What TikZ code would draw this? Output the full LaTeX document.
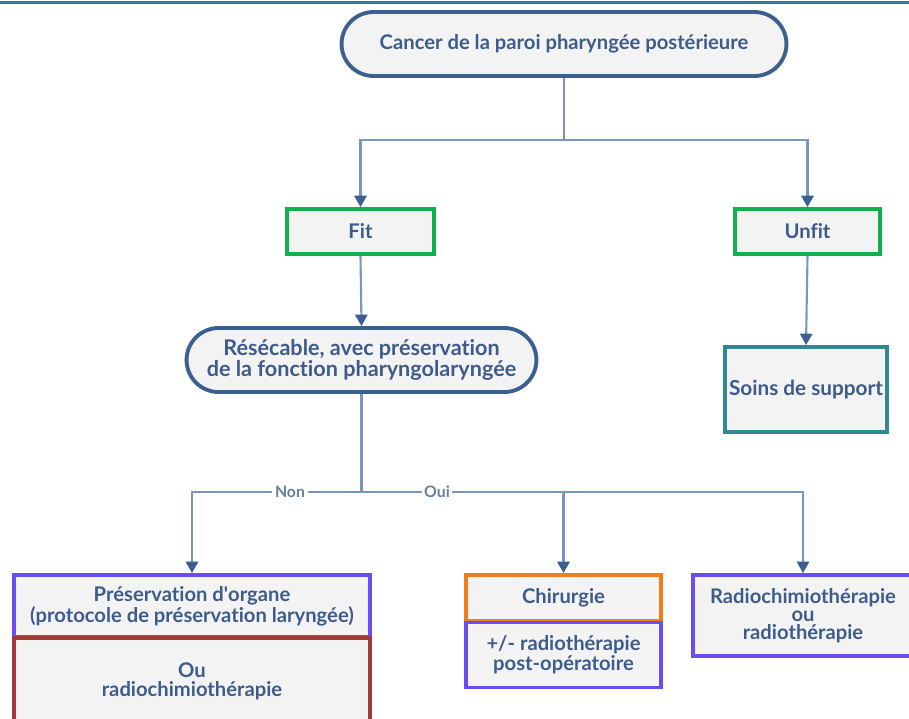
\documentclass[tikz,border=0pt]{standalone}
\usepackage{fontspec}
\setmainfont{Lato}[Ligatures={NoCommon}]
\usetikzlibrary{arrows.meta,shapes.misc}

\definecolor{txtblue}{RGB}{61,91,140}
\definecolor{edgeblue}{RGB}{120,150,190}
\definecolor{tipblue}{RGB}{60,95,145}
\definecolor{boxfill}{RGB}{243,243,243}
\definecolor{darkframe}{RGB}{59,95,143}
\definecolor{fitgreen}{RGB}{18,176,74}
\definecolor{careteal}{RGB}{46,138,144}
\definecolor{violet}{RGB}{106,76,240}
\definecolor{orangebox}{RGB}{240,124,28}
\definecolor{brownbox}{RGB}{160,58,58}
\definecolor{topline}{RGB}{43,127,158}

\begin{document}
\begin{tikzpicture}[x=0.02cm,y=-0.02cm,
    base/.style={fill=boxfill, text=txtblue, font=\bfseries\fontsize{11.5}{10.2}\selectfont,
                 align=center, inner sep=2pt, line width=2.2pt},
    pill/.style={base, draw=darkframe, rounded rectangle},
    box/.style={base, draw=#1, rectangle},
    link/.style={draw=edgeblue, line width=1.2pt},
    arr/.style={link, -{Triangle[width=7pt,length=6.5pt,color=tipblue]}},
    tag/.style={fill=white, text=edgeblue!85!black, font=\bfseries\fontsize{9}{10}\selectfont, inner sep=1.5pt}
  ]
  \useasboundingbox (0,0) rectangle (909,718);
  \draw[topline, line width=1.7pt] (0,2) -- (909,2);

  % nodes
  \node[pill, minimum width=9.04cm, minimum height=1.28cm] (top) at (564,44) {Cancer de la paroi pharyngée postérieure};
  \node[box=fitgreen, minimum width=2.94cm, minimum height=0.9cm] (fit) at (360.5,231.5) {Fit};
  \node[box=fitgreen, minimum width=2.9cm, minimum height=0.9cm] (unfit) at (807.5,231.5) {Unfit};
  \node[pill, minimum width=7.14cm, minimum height=1.28cm, font=\bfseries\fontsize{12.3}{10.8}\selectfont] (resec) at (361.5,360) {Résécable, avec préservation\\de la fonction pharyngolaryngée};
  \node[box=careteal, minimum width=3.24cm, minimum height=1.7cm, font=\bfseries\fontsize{11.8}{12}\selectfont] (soins) at (806,389.5) {Soins de support};
  \node[box=violet, minimum width=7.12cm, minimum height=1.24cm] (pres) at (192,606) {Préservation d\textquotesingle organe\\(protocole de préservation laryngée)};
  \node[box=brownbox, minimum width=7.12cm, minimum height=1.74cm, font=\bfseries\fontsize{11.5}{10.8}\selectfont] (ou) at (192,681.5) {Ou\\radiochimiothérapie};
  \node[box=orangebox, minimum width=3.9cm, minimum height=0.92cm] (chir) at (563.5,598) {Chirurgie};
  \node[box=violet, minimum width=3.9cm, minimum height=1.3cm] (postop) at (563.5,655) {+/- radiothérapie\\post-opératoire};
  \node[box=violet, minimum width=4.4cm, minimum height=1.62cm] (radio) at (803,615.5) {Radiochimiothérapie\\ou\\radiothérapie};

  % junctions
  \coordinate (j1) at (564,140);
  \coordinate (j2) at (361.5,492);

  % connectors
  \draw[link] (top.south) -- (j1);
  \draw[arr] (j1) -| (fit.north);
  \draw[arr] (j1) -| (unfit.north);
  \draw[arr] (fit.south) -- (resec.north);
  \draw[arr] (unfit.south) -- (soins.north);
  \draw[link] (resec.south) -- (j2);
  \draw[arr] (j2) -| (pres.north);
  \draw[arr] (j2) -| (chir.north);
  \draw[arr] (j2) -| (radio.north);

  % branch labels
  \node[tag] (non) at (290,492) {Non};
  \node[tag] (oui) at (437,492) {Oui};
\end{tikzpicture}
\end{document}
